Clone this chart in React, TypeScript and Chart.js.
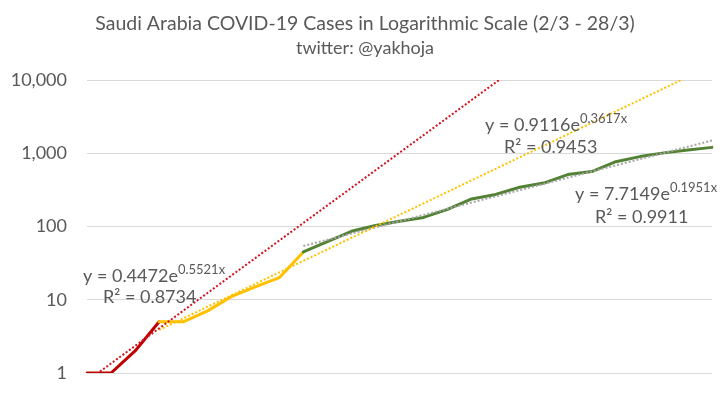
import React, { useEffect, useRef } from "react";
import { Chart, registerables } from "chart.js";

Chart.register(...registerables);

const categories = [
  "2/3", "3/3", "4/3", "5/3", "6/3", "7/3", "8/3", "9/3", "10/3", "11/3",
  "12/3", "13/3", "14/3", "15/3", "16/3", "17/3", "18/3", "19/3", "20/3",
  "21/3", "22/3", "23/3", "24/3", "25/3", "26/3", "27/3", "28/3",
];

const cases = [
  1, 1, 2, 5, 5, 7, 11, 15, 20, 45, 62, 86, 103, 118, 133, 171, 238, 274,
  344, 392, 511, 562, 767, 900, 1012, 1104, 1203,
];

// phase ranges (category index, inclusive)
const redRange = [0, 3];
const yellowRange = [3, 9];
const greenRange = [9, 26];

// trendline coefficients as shown on the chart (y = a * e^(b x), x = 1-based category)
const redTrend = { a: 0.4472, b: 0.5521, r2: "0.8734" };
const yellowTrend = { a: 0.9116, b: 0.3617, r2: "0.9453" };
const greenTrend = { a: 7.7149, b: 0.1951, r2: "0.9911" };

const yTicks = [1, 10, 100, 1000, 10000];

const slice = (r: number[]) =>
  cases.map((v, i) => (i >= r[0] && i <= r[1] ? v : null));

const trend = (t: { a: number; b: number }, start: number) =>
  cases.map((_, i) => (i >= start ? t.a * Math.exp(t.b * (i + 1)) : null));

const FONT = "Lato, 'Open Sans', sans-serif";
const TEXT = "#595959";

const labelsPlugin = {
  id: "customText",
  afterDraw(chart: any) {
    const ctx = chart.ctx as CanvasRenderingContext2D;
    ctx.save();
    ctx.fillStyle = TEXT;
    ctx.textBaseline = "alphabetic";
    ctx.textAlign = "center";
    ctx.font = `19.5px ${FONT}`;
    ctx.fillText("Saudi Arabia COVID-19 Cases in Logarithmic Scale (2/3 - 28/3)", 365, 30);
    ctx.font = `18px ${FONT}`;
    ctx.fillText("twitter: @yakhoja", 365, 54);

    const eq = (t: { a: number; b: number; r2: string }, x: number, y: number, rx: number, ry: number) => {
      ctx.textAlign = "left";
      ctx.font = `18px ${FONT}`;
      const main = `y = ${t.a.toFixed(4)}e`;
      ctx.fillText(main, x, y);
      const w = ctx.measureText(main).width;
      ctx.font = `13px ${FONT}`;
      ctx.fillText(`${t.b.toFixed(4)}x`, x + w, y - 8);
      ctx.font = `18px ${FONT}`;
      ctx.fillText("R² = " + t.r2, rx, ry);
    };
    eq(redTrend, 83, 282, 103, 303);
    eq(yellowTrend, 485, 131, 504, 153);
    eq(greenTrend, 575, 200, 595, 223);
    ctx.restore();
  },
};

export default function App() {
  const ref = useRef<HTMLCanvasElement>(null);
  useEffect(() => {
    if (!ref.current) return;
    const dotted = { borderWidth: 2, borderDash: [2, 2], pointRadius: 0, fill: false, spanGaps: false, borderCapStyle: "butt" as const };
    const solid = { borderWidth: 3, pointRadius: 0, fill: false, spanGaps: false, borderJoinStyle: "round" as const, borderCapStyle: "round" as const };
    const chart = new Chart(ref.current, {
      type: "line",
      data: {
        labels: categories,
        datasets: [
          { label: "trend red", data: trend(redTrend, redRange[0]), borderColor: "#D0141E", ...dotted },
          { label: "trend yellow", data: trend(yellowTrend, yellowRange[0]), borderColor: "#FFC000", ...dotted },
          { label: "trend green", data: trend(greenTrend, greenRange[0]), borderColor: "#A6A6A6", ...dotted },
          { label: "green", data: slice(greenRange), borderColor: "#548235", ...solid },
          { label: "yellow", data: slice(yellowRange), borderColor: "#FFC000", ...solid },
          { label: "red", data: slice(redRange), borderColor: "#C00000", ...solid },
        ],
      },
      options: {
        responsive: false,
        animation: false,
        devicePixelRatio: 1,
        layout: { padding: { top: 80, bottom: 20, left: 0, right: 14 } },
        plugins: { legend: { display: false }, title: { display: false }, tooltip: { enabled: false } },
        scales: {
          x: { display: false, offset: false },
          y: {
            type: "logarithmic",
            min: 1,
            max: 10000,
            border: { display: false },
            grid: { color: "#D9D9D9", lineWidth: 1, drawTicks: false },
            afterBuildTicks: (s: any) => {
              s.ticks = yTicks.map((v) => ({ value: v }));
            },
            afterFit: (s: any) => {
              s.width = 87;
              s.paddingTop = 0;
              s.paddingBottom = 0;
            },
            ticks: {
              padding: 20,
              color: TEXT,
              font: { family: FONT, size: 18 },
              callback: (v: any) => Number(v).toLocaleString("en-US"),
            },
          },
        },
      },
      plugins: [labelsPlugin],
    });
    return () => chart.destroy();
  }, []);
  return (
    <div style={{ position: "absolute", left: 0, top: 0, width: 726, height: 393, background: "#fff" }}>
      <canvas ref={ref} width={726} height={393} />
    </div>
  );
}
